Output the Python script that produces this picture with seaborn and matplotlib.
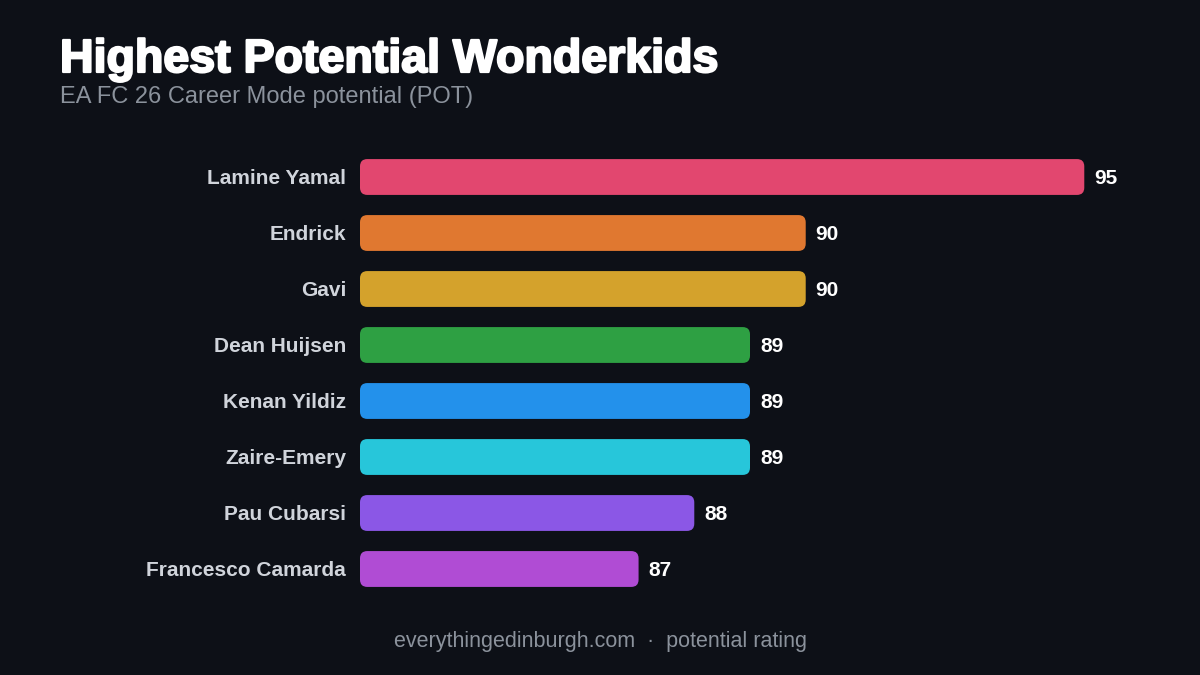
import matplotlib
matplotlib.use("Agg")
import matplotlib.pyplot as plt
import matplotlib.patheffects as pe
import seaborn as sns
import pandas as pd
from matplotlib.patches import FancyBboxPatch

players = ["Lamine Yamal", "Endrick", "Gavi", "Dean Huijsen", "Kenan Yildiz",
           "Zaire-Emery", "Pau Cubarsi", "Francesco Camarda"]
potential = [95, 90, 90, 89, 89, 89, 88, 87]
colors = ["#E2476F", "#E07830", "#D4A22C", "#2EA043", "#2391EB",
          "#27C6DA", "#8B57E6", "#B04CD4"]

BG = "#0D1017"
sns.set_theme(style="dark")
plt.rcParams['font.family'] = ['Liberation Sans', 'DejaVu Sans']

fig = plt.figure(figsize=(12, 6.75), dpi=100, facecolor=BG)
ax = fig.add_axes([360/1200, 1-597/675, 780/1200, 448/675])
ax.set_facecolor(BG)

df = pd.DataFrame({"player": players, "pot": potential})
base = 82
df["len"] = df["pot"] - base
sns.barplot(data=df, y="player", x="len", hue="player", palette=colors,
            saturation=1, legend=False, width=0.64, ax=ax, orient="h")

for p in list(ax.patches):
    x0, y0, w, h = p.get_x(), p.get_y(), p.get_width(), p.get_height()
    c = p.get_facecolor()
    p.remove()
    ax.add_patch(FancyBboxPatch((x0, y0), w, h, boxstyle="round,pad=0,rounding_size=0.13",
                                facecolor=c, edgecolor="none"))

for i, v in enumerate(potential):
    ax.text(v - base + 0.18, i, str(v), va="center_baseline", ha="left", color="white",
            fontsize=15, fontweight="bold")

ax.set_xlim(0, 14)
ax.set_ylim(7.5, -0.5)
ax.set_xlabel(""); ax.set_ylabel("")
ax.set_xticks([])
ax.tick_params(axis="y", length=0, pad=10)
for t in ax.get_yticklabels():
    t.set_color("#D0D4DB"); t.set_fontsize(15); t.set_fontweight("bold")
    t.set_verticalalignment("center_baseline")
for s in ax.spines.values():
    s.set_visible(False)
ax.grid(False)

fig.text(60/1200, 1-60/675, "Highest Potential Wonderkids", color="white",
         fontsize=33.5, fontweight="heavy", va="center", ha="left",
         path_effects=[pe.withStroke(linewidth=1.6, foreground="white")])
fig.text(60/1200, 1-97/675, "EA FC 26 Career Mode potential (POT)", color="#8B929C",
         fontsize=17, va="center", ha="left")
fig.text(0.5, 1-642/675, "everythingedinburgh.com  ·  potential rating", color="#8B929C",
         fontsize=15.5, va="center", ha="center")

fig.savefig("out.png", facecolor=BG)
